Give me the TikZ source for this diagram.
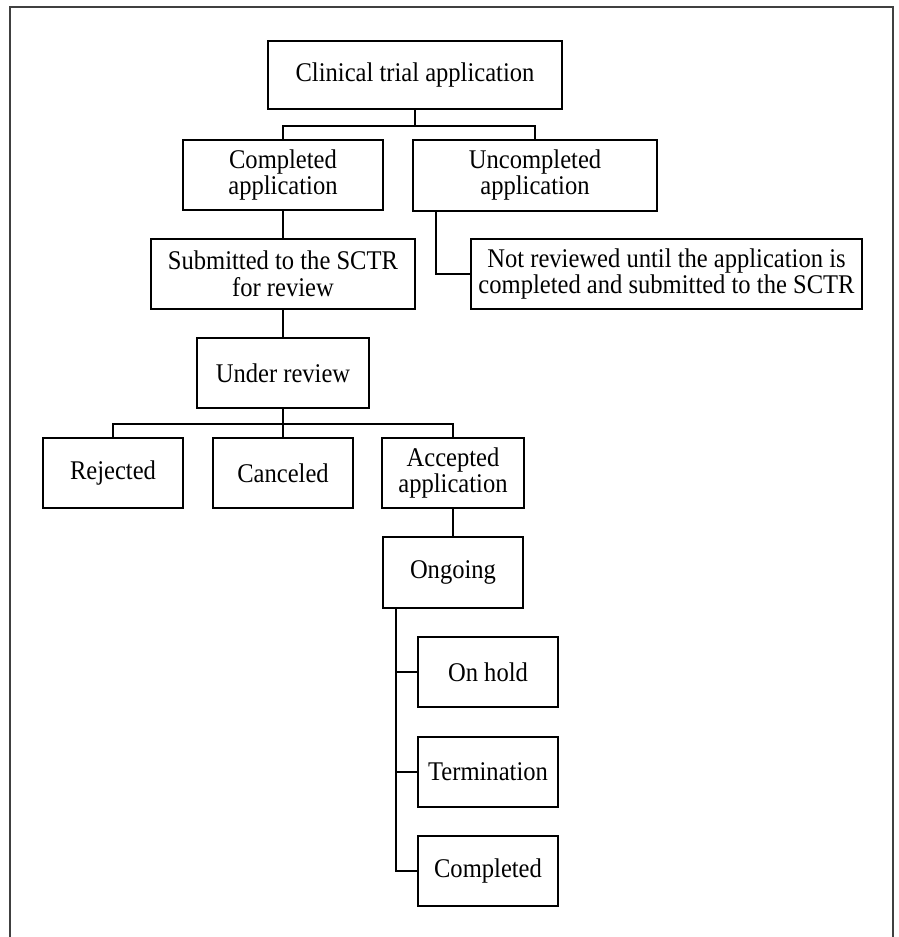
\documentclass[tikz,border=0pt]{standalone}
\usepackage{fontspec}
\setmainfont[FakeStretch=0.91]{Liberation Serif}
\usetikzlibrary{calc}

\tikzset{
  stage/.style={draw, line width=2pt, inner sep=0pt, align=center,
    font=\fontsize{27}{26.5}\selectfont},
  link/.style={line width=1.8pt},
  frame/.style={line width=2.8pt, black!75}
}

\begin{document}
\begin{tikzpicture}[x=1pt, y=-1pt]
  % page size and the open frame round the chart
  \useasboundingbox (0,0) rectangle (898,937);
  \draw [frame] (10,937) -- (10,7) -- (893,7) -- (893,937);

  % the application and its two outcomes
  \node [stage, minimum width=294pt, minimum height=68pt] (app) at (415,75) {Clinical trial application};
  \node [stage, minimum width=200pt, minimum height=70pt] (done) at (283,175) {Completed\\application};
  \node [stage, minimum width=244pt, minimum height=71pt] (undone) at (535,175) {Uncompleted\\application};
  \node [stage, minimum width=264pt, minimum height=70pt] (submitted) at (283,274) {Submitted to the SCTR\\for review};
  \node [stage, minimum width=391pt, minimum height=70pt] (notrev) at (666.5,274) {Not reviewed until the application is\\completed and submitted to the SCTR};
  \node [stage, minimum width=172pt, minimum height=70pt] (review) at (283,373) {Under review};

  % decisions after review
  \node [stage, minimum width=140pt, minimum height=70pt] (rejected) at (113,473) {Rejected};
  \node [stage, minimum width=140pt, minimum height=70pt] (canceled) at (283,473) {Canceled};
  \node [stage, minimum width=142pt, minimum height=70pt] (accepted) at (453,473) {Accepted\\application};
  \node [stage, minimum width=140pt, minimum height=71pt] (ongoing) at (453,572.5) {Ongoing};

  % states of an ongoing trial
  \node [stage, minimum width=140pt, minimum height=70pt] (onhold) at (488,672) {On hold};
  \node [stage, minimum width=140pt, minimum height=70pt] (termination) at (488,772) {Termination};
  \node [stage, minimum width=140pt, minimum height=70pt] (completed) at (488,871) {Completed};

  % connectors
  \draw [link] (app.south) -- ++(0,16) coordinate (j1);
  \draw [link] (done.north) |- (j1) -| (undone.north);
  \draw [link] (done.south) -- (submitted.north);
  \draw [link] ([xshift=24pt]undone.south west) |- (notrev.west);
  \draw [link] (submitted.south) -- (review.north);
  \draw [link] (review.south) -- ++(0,15) coordinate (j2);
  \draw [link] (rejected.north) |- (j2) -| (accepted.north);
  \draw [link] (j2) -- (canceled.north);
  \draw [link] (accepted.south) -- (ongoing.north);
  \draw [link] ([xshift=14pt]ongoing.south west) coordinate (spine) |- (completed.west);
  \foreach \st in {onhold,termination}
    \draw [link] (spine |- \st.west) -- (\st.west);
\end{tikzpicture}
\end{document}
